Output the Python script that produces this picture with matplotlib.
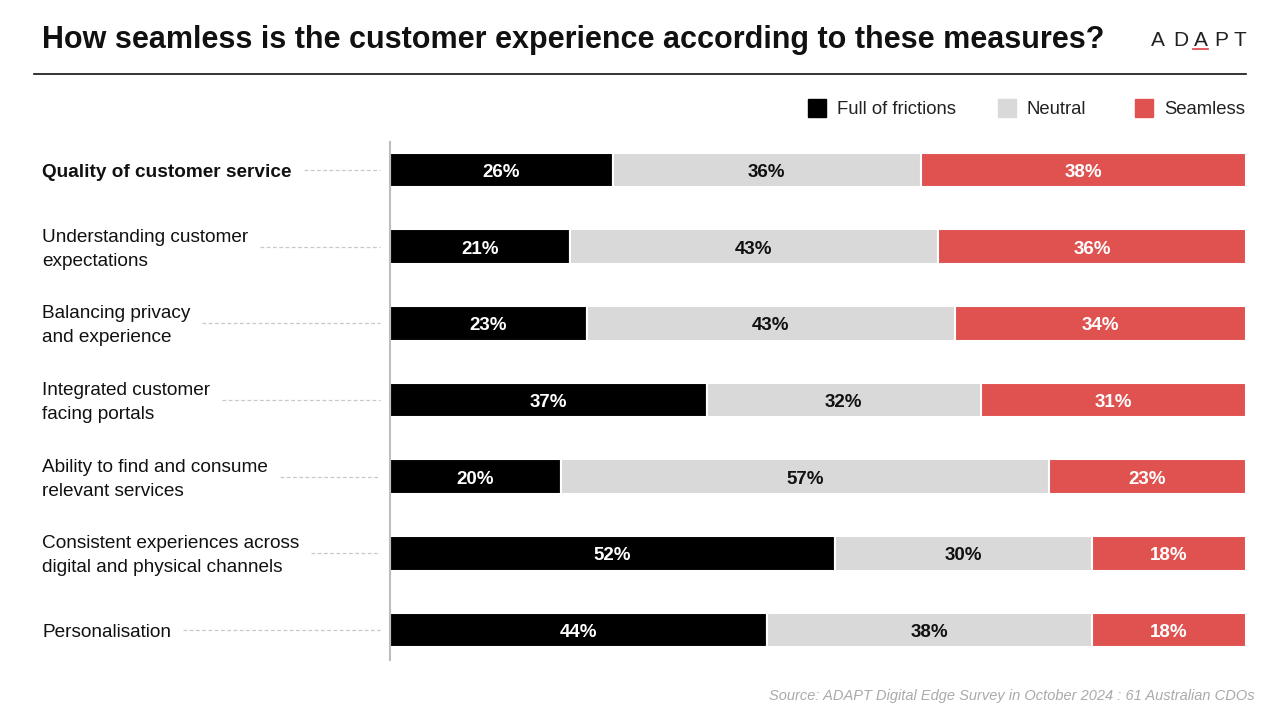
import matplotlib
matplotlib.use("Agg")
import matplotlib.pyplot as plt
from matplotlib.patches import Rectangle

plt.rcParams['font.family'] = ['Liberation Sans', 'DejaVu Sans']

# data
categories = [
    "Quality of customer service",
    "Understanding customer\nexpectations",
    "Balancing privacy\nand experience",
    "Integrated customer\nfacing portals",
    "Ability to find and consume\nrelevant services",
    "Consistent experiences across\ndigital and physical channels",
    "Personalisation",
]
frictions = [26, 21, 23, 37, 20, 52, 44]
neutral = [36, 43, 43, 32, 57, 30, 38]
seamless = [38, 36, 34, 31, 23, 18, 18]
series_names = ["Full of frictions", "Neutral", "Seamless"]

BLACK = "#000000"
GREY = "#d9d9d9"
RED = "#e05250"
W, H = 1280, 720


def fx(px):
    return px / W


def fy(py):
    return 1 - py / H


fig = plt.figure(figsize=(12.8, 7.2), dpi=100)
fig.patch.set_facecolor("white")

# bars
ax = fig.add_axes([fx(390), fy(660), fx(1246) - fx(390), fy(142) - fy(660)])
ypos = list(range(len(categories)))
left = [0] * len(categories)
for vals, col, txtcol in [(frictions, BLACK, "white"), (neutral, GREY, "#111111"), (seamless, RED, "white")]:
    ax.barh(ypos, vals, left=left, height=0.45, color=col, edgecolor="white", linewidth=1.5)
    for y, l, v in zip(ypos, left, vals):
        ax.annotate(f"{v}%", (l + v / 2, y), xytext=(0, -2.5), textcoords="offset pixels",
                    ha="center", va="center", color=txtcol, fontsize=13.5, fontweight="bold")
    left = [a + b for a, b in zip(left, vals)]

ax.set_xlim(0, 100)
ax.set_ylim(6.39, -0.365)
ax.set_xticks([])
ax.set_yticks([])
for s in ["top", "right", "bottom"]:
    ax.spines[s].set_visible(False)
ax.spines["left"].set_color("#bdbdbd")
ax.spines["left"].set_linewidth(1.5)

# category labels with dashed leader lines
fig.canvas.draw()
renderer = fig.canvas.get_renderer()
for i, cat in enumerate(categories):
    yc = ax.transData.transform((0, i))[1]
    yf = yc / H
    bold = i == 0
    t = fig.text(fx(42), yf - 2.5 / H, cat, ha="left", va="center", fontsize=13.7,
                 fontweight="bold" if bold else "normal", color="#111111",
                 linespacing=1.55)
    bb = t.get_window_extent(renderer)
    x0 = bb.x1 + 12
    fig.add_artist(plt.Line2D([x0 / W, fx(380)], [yf, yf], transform=fig.transFigure,
                              color="#c8c8c8", linewidth=0.9, linestyle=(0, (3, 2))))

# title and rule
fig.text(fx(42), fy(40), "How seamless is the customer experience according to these measures?",
         ha="left", va="center", fontsize=22, fontweight="bold", color="#111111")
fig.add_artist(plt.Line2D([fx(34), fx(1246)], [fy(74), fy(74)], transform=fig.transFigure,
                          color="#111111", linewidth=1.2))

# logo
for ch, x in zip("ADAPT", [1158, 1181, 1201, 1221, 1240]):
    fig.text(fx(x), fy(41), ch, ha="center", va="center", fontsize=15, color="#222222")
fig.add_artist(plt.Line2D([fx(1193), fx(1208)], [fy(48.5), fy(48.5)], transform=fig.transFigure,
                          color=RED, linewidth=1.3))

# legend
for name, col, xs in zip(series_names, [BLACK, GREY, RED], [808, 998, 1135]):
    fig.add_artist(Rectangle((fx(xs), fy(117)), fx(18), fy(99) - fy(117),
                             transform=fig.transFigure, color=col))
    fig.text(fx(xs + 29), fy(110), name, ha="left", va="center", fontsize=13.3, color="#222222")

# source
fig.text(fx(1255), fy(696), "Source: ADAPT Digital Edge Survey in October 2024 : 61 Australian CDOs",
         ha="right", va="center", fontsize=10.5, style="italic", color="#aaaaaa")

fig.savefig("out.png", dpi=100, facecolor="white")
